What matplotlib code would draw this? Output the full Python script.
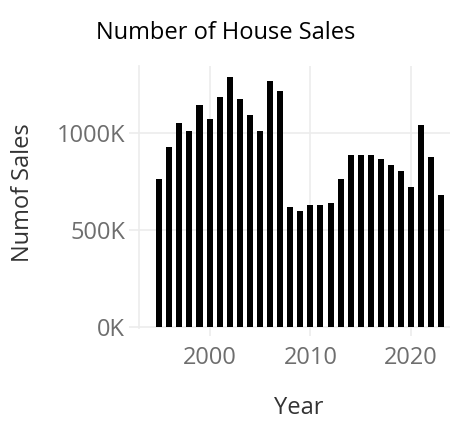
import matplotlib
matplotlib.use("Agg")
import matplotlib.pyplot as plt
from matplotlib.ticker import FuncFormatter

years = list(range(1995, 2024))
sales = [761000, 926000, 1050000, 1009000, 1143000, 1071000, 1184000, 1287000,
         1174000, 1091000, 1009000, 1266000, 1215000, 617000, 596000, 627000,
         627000, 638000, 761000, 885000, 885000, 885000, 864000, 834000,
         803000, 720000, 1040000, 875000, 679000]
y_ticks = [0, 500000, 1000000]
x_ticks = [2000, 2010, 2020]

W, H = 450, 442
grid_c = "#ececec"
tick_c = "#6e6e6e"

fig = plt.figure(figsize=(W/100, H/100), dpi=100)
ax = fig.add_axes([139/W, (H-327.5)/H, (W-139)/W, (327.5-66)/H])

ax.bar(years, sales, width=0.6, color="black", zorder=3)

ax.set_xlim(1993, 2023.85)
ax.set_ylim(-5000, 1344000)
ax.set_yticks(y_ticks)
ax.set_xticks(x_ticks)
ax.yaxis.set_major_formatter(FuncFormatter(lambda v, p: f"{int(round(v/1000))}K"))

ax.grid(True, color=grid_c, linewidth=1.2, zorder=0)
for s in ["top", "right", "bottom"]:
    ax.spines[s].set_visible(False)
ax.spines["left"].set_color(grid_c)
ax.spines["left"].set_linewidth(1.2)

fam = ["Open Sans", "DejaVu Sans"]
ax.tick_params(axis="y", length=7, width=1.2, color=grid_c, labelcolor=tick_c,
               labelsize=17, pad=3)
ax.tick_params(axis="x", length=6, width=1.2, color=grid_c, labelcolor=tick_c,
               labelsize=17, pad=7)
for lab in ax.get_xticklabels() + ax.get_yticklabels():
    lab.set_family(fam)

fig.text(299/W, 1 - 408/H, "Year", ha="center", va="center",
         fontsize=17, color="#333333", family=fam)
fig.text(23/W, 1 - 193/H, "Numof Sales", ha="center", va="center", rotation=90,
         fontsize=17, color="#333333", family=fam)
fig.text(226/W, 1 - 33/H, "Number of House Sales", ha="center", va="center",
         fontsize=17, color="black", family=fam)

fig.savefig("out.png", dpi=100)
